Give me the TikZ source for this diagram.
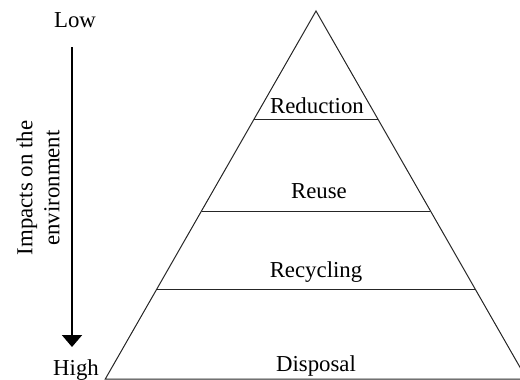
\documentclass[tikz,border=0pt]{standalone}
\usepackage{fontspec}
\setmainfont{Liberation Serif}
\usetikzlibrary{arrows.meta}
\begin{document}
\begin{tikzpicture}[x=0.5pt,y=-0.5pt,
  lbl/.style={font=\fontsize{11.4}{13.5}\selectfont, inner sep=0pt, anchor=base},
  edge/.style={draw=black!85, line width=0.5pt},
  axis/.style={line width=1pt, -{Triangle[width=10pt,length=6pt]}}]
\useasboundingbox (0,0) rectangle (520,380);
% triangle corners
\coordinate (A) at (316,11);
\coordinate (BL) at (105.3,379);
\coordinate (BR) at (526.7,379);
% level lines
\coordinate (L1) at (254.2,119);
\coordinate (R1) at (377.8,119);
\coordinate (L2) at (202.1,211);
\coordinate (R2) at (429.9,211);
\coordinate (L3) at (156.8,289);
\coordinate (R3) at (475.2,289);
\draw[edge] (BL) -- (A) -- (BR) -- cycle;
\draw[edge] (L1) -- (R1);
\draw[edge] (L2) -- (R2);
\draw[edge] (L3) -- (R3);
% labels
\node[lbl] (red) at (317,113) {Reduction};
\node[lbl] (reu) at (319,198) {Reuse};
\node[lbl] (rec) at (316,277) {Recycling};
\node[lbl] (dis) at (316,371) {Disposal};
\node[lbl] (low) at (75,27) {Low};
\node[lbl] (high) at (76,375) {High};
% axis
\coordinate (top) at (72,47);
\coordinate (bot) at (72,347);
\draw[axis] (top) -- (bot);
\node[font=\fontsize{11.4}{13.5}\selectfont, align=center, rotate=90, inner sep=0pt] (imp) at (38,188) {Impacts on the\\environment};
\end{tikzpicture}
\end{document}
